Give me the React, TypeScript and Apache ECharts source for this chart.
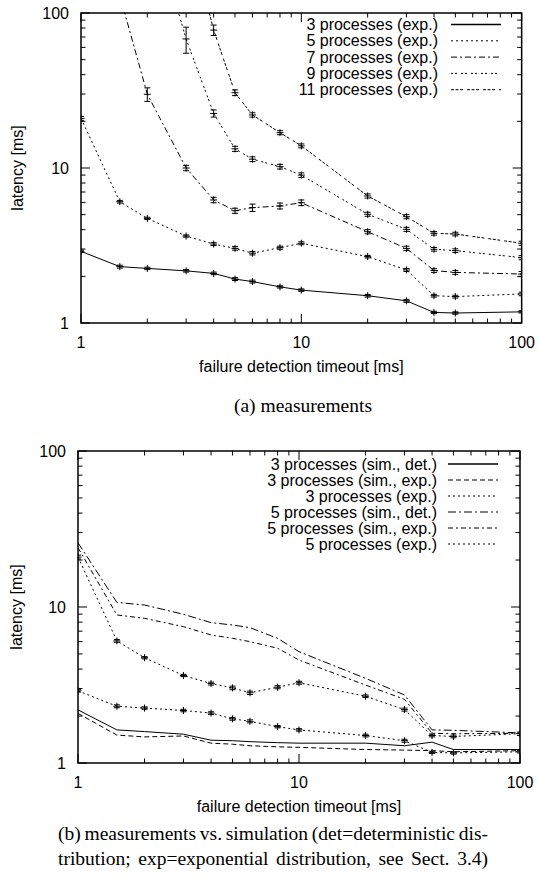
import React, { useEffect, useRef } from "react";
import * as echarts from "echarts";

// failure detection timeouts [ms]
const timeouts = [1, 1.5, 2, 3, 4, 5, 6, 8, 10, 20, 30, 40, 50, 100];

// (a) measurements, latency [ms]
const exp3 = [2.9, 2.31, 2.25, 2.17, 2.09, 1.92, 1.85, 1.71, 1.63, 1.5, 1.39, 1.17, 1.16, 1.18];
const exp3Err = [0.05, 0.05, 0.04, 0.04, 0.04, 0.04, 0.04, 0.03, 0.03, 0.03, 0.03, 0.02, 0.02, 0.02];
const exp5 = [20.9, 6.06, 4.73, 3.64, 3.23, 3.03, 2.82, 3.06, 3.27, 2.68, 2.2, 1.5, 1.48, 1.54];
const exp5Err = [0.6, 0.12, 0.08, 0.06, 0.07, 0.08, 0.07, 0.07, 0.07, 0.05, 0.05, 0.03, 0.03, 0.04];
const exp7 = [null, 130, 29.9, 10.0, 6.22, 5.3, 5.55, 5.69, 5.97, 3.88, 3.03, 2.18, 2.12, 2.07];
const exp7Err = [0, 0, 3, 0.4, 0.25, 0.2, 0.3, 0.25, 0.25, 0.12, 0.1, 0.06, 0.06, 0.08];
const exp9 = [null, null, 500, 68, 22.5, 13.3, 11.4, 10.2, 9.0, 5.03, 4.02, 2.99, 2.93, 2.64];
const exp9Err = [0, 0, 0, 13, 1.2, 0.5, 0.4, 0.35, 0.3, 0.15, 0.12, 0.08, 0.08, 0.08];
const exp11 = [null, null, null, 400, 77.6, 30.6, 22, 16.9, 13.9, 6.6, 4.85, 3.79, 3.75, 3.27];
const exp11Err = [0, 0, 0, 0, 6, 1.3, 0.7, 0.5, 0.4, 0.2, 0.15, 0.1, 0.1, 0.1];

// (b) simulation, latency [ms]
const sim3Det = [2.19, 1.63, 1.59, 1.53, 1.4, 1.39, 1.37, 1.35, 1.34, 1.34, 1.29, 1.36, 1.22, 1.22];
const sim3Exp = [2.08, 1.51, 1.47, 1.49, 1.34, 1.32, 1.29, 1.27, 1.26, 1.22, 1.21, 1.2, 1.18, 1.2];
const sim5Det = [25.8, 10.7, 10.3, 8.98, 7.94, 7.67, 7.37, 6.3, 5.17, 3.49, 2.73, 1.63, 1.62, 1.56];
const sim5Exp = [24, 8.89, 8.46, 7.48, 6.62, 6.3, 6.0, 5.44, 4.57, 3.16, 2.56, 1.55, 1.54, 1.55];

// axis ticks
const majorTicks = [1, 10, 100];
const minorTicks = [2, 3, 4, 5, 6, 7, 8, 9, 20, 30, 40, 50, 60, 70, 80, 90];

const legendA = [
  "3 processes (exp.)",
  "5 processes (exp.)",
  "7 processes (exp.)",
  "9 processes (exp.)",
  "11 processes (exp.)",
];
const legendB = [
  "3 processes (sim., det.)",
  "3 processes (sim., exp.)",
  "3 processes (exp.)",
  "5 processes (sim., det.)",
  "5 processes (sim., exp.)",
  "5 processes (exp.)",
];

const xTitle = "failure detection timeout [ms]";
const yTitle = "latency [ms]";
const captionA = "(a) measurements";
const captionB1 = "(b) measurements vs. simulation (det=deterministic dis-";
const captionB2 = "tribution; exp=exponential distribution, see Sect. 3.4)";

const SANS = '"Liberation Sans", Arial, Helvetica, sans-serif';
const SERIF = '"Liberation Serif", "Times New Roman", serif';

const dashA = [null, [2, 3], [6, 3, 2, 3], [2, 2, 2, 4], [3, 1.5, 3, 1.5, 3, 4]];
const dashB = [null, [5, 3], [2, 3], [8, 3, 2, 3], [5, 3, 2, 3], [2, 3]];

function pairs(vals: (number | null)[]) {
  const out: number[][] = [];
  vals.forEach((v, i) => {
    if (v != null) out.push([timeouts[i], v]);
  });
  return out;
}

function errData(vals: (number | null)[], errs: number[]) {
  const out: number[][] = [];
  vals.forEach((v, i) => {
    if (v != null && v <= 100) out.push([timeouts[i], v, v - errs[i], v + errs[i]]);
  });
  return out;
}

function renderErr(params: any, api: any) {
  const x = api.value(0);
  const y = api.value(1);
  const lo = api.value(2);
  const hi = api.value(3);
  const c = api.coord([x, y]);
  const cl = api.coord([x, lo]);
  const ch = api.coord([x, hi]);
  const s = 3.5;
  const cap = 3;
  const st = { stroke: "#000", lineWidth: 1 };
  const top = Math.min(ch[1], c[1] - s);
  const bot = Math.max(cl[1], c[1] + s);
  return {
    type: "group",
    children: [
      { type: "line", shape: { x1: c[0], y1: top, x2: c[0], y2: bot }, style: st },
      { type: "line", shape: { x1: c[0] - s, y1: c[1], x2: c[0] + s, y2: c[1] }, style: st },
      { type: "line", shape: { x1: c[0] - cap, y1: cl[1], x2: c[0] + cap, y2: cl[1] }, style: st },
      { type: "line", shape: { x1: c[0] - cap, y1: ch[1], x2: c[0] + cap, y2: ch[1] }, style: st },
    ],
  };
}

function renderTicks(params: any, api: any) {
  const v = api.value(0);
  const len = api.value(2);
  const cs = params.coordSys;
  const px = api.coord([v, 1])[0];
  const py = api.coord([1, v])[1];
  const L = cs.x;
  const R = cs.x + cs.width;
  const T = cs.y;
  const B = cs.y + cs.height;
  const st = { stroke: "#000", lineWidth: 1 };
  return {
    type: "group",
    children: [
      { type: "line", shape: { x1: px, y1: B, x2: px, y2: B - len }, style: st },
      { type: "line", shape: { x1: px, y1: T, x2: px, y2: T + len }, style: st },
      { type: "line", shape: { x1: L, y1: py, x2: L + len, y2: py }, style: st },
      { type: "line", shape: { x1: R, y1: py, x2: R - len, y2: py }, style: st },
    ],
  };
}

function tickData() {
  return [
    ...majorTicks.map((t) => [t, t, 9]),
    ...minorTicks.map((t) => [t, t, 4.5]),
  ];
}

function justify(text: string, x0: number, x1: number, y: number, size: number) {
  const ctx = document.createElement("canvas").getContext("2d") as CanvasRenderingContext2D;
  ctx.font = `${size}px "Liberation Serif"`;
  const words = text.split(" ");
  const widths = words.map((w) => ctx.measureText(w).width);
  const total = widths.reduce((a, b) => a + b, 0);
  const gap = (x1 - x0 - total) / (words.length - 1);
  let x = x0;
  return words.map((w, i) => {
    const el = {
      type: "text",
      x,
      y,
      style: { text: w, fontSize: size, fontFamily: SERIF, fill: "#000", verticalAlign: "middle" },
    };
    x += widths[i] + gap;
    return el;
  });
}

function legendItems(labels: string[], dashes: any[], textRight: number, lx0: number, lx1: number, y0: number, dy: number) {
  const els: any[] = [];
  labels.forEach((lab, i) => {
    const y = y0 + i * dy;
    els.push({
      type: "text",
      x: textRight,
      y,
      style: { text: lab, fontSize: 16, fontFamily: SANS, fill: "#000", align: "right", verticalAlign: "middle" },
    });
    els.push({
      type: "line",
      shape: { x1: lx0, y1: y, x2: lx1, y2: y },
      style: { stroke: "#000", lineWidth: dashes[i] ? 1 : 1.5, lineDash: dashes[i] || null },
    });
  });
  return els;
}

function axisPair(gi: number, yGap: number) {
  const common = {
    gridIndex: gi,
    type: "log",
    logBase: 10,
    min: 1,
    max: 100,
    axisLine: { show: false },
    axisTick: { show: false },
    splitLine: { show: false },
    minorTick: { show: false },
    minorSplitLine: { show: false },
    nameLocation: "middle",
    nameTextStyle: { fontSize: 16, fontFamily: SANS, color: "#000" },
  };
  return {
    x: {
      ...common,
      name: xTitle,
      nameGap: 35,
      axisLabel: { fontSize: 16, fontFamily: SANS, color: "#000", margin: 11 },
    },
    y: {
      ...common,
      name: yTitle,
      nameGap: yGap,
      axisLabel: { fontSize: 16, fontFamily: SANS, color: "#000", margin: 12 },
    },
  };
}

export default function App() {
  const ref = useRef<HTMLDivElement>(null);
  useEffect(() => {
    if (!ref.current) return;
    const chart = echarts.init(ref.current, null, { renderer: "svg" });
    const a = axisPair(0, 56);
    const b = axisPair(1, 54);

    const topSeries: any[] = [exp3, exp5, exp7, exp9, exp11].map((vals, i) => ({
      type: "line",
      xAxisIndex: 0,
      yAxisIndex: 0,
      data: pairs(vals),
      showSymbol: false,
      symbol: "none",
      clip: true,
      lineStyle: { color: "#000", width: 1, type: dashA[i] || "solid" },
    }));
    const topErrs = [
      [exp3, exp3Err],
      [exp5, exp5Err],
      [exp7, exp7Err],
      [exp9, exp9Err],
      [exp11, exp11Err],
    ].map(([v, e]: any) => ({
      type: "custom",
      xAxisIndex: 0,
      yAxisIndex: 0,
      clip: true,
      renderItem: renderErr,
      encode: { x: 0, y: 1 },
      data: errData(v, e),
    }));

    const botSeries: any[] = [sim3Det, sim3Exp, exp3, sim5Det, sim5Exp, exp5].map((vals, i) => ({
      type: "line",
      xAxisIndex: 1,
      yAxisIndex: 1,
      data: pairs(vals),
      showSymbol: false,
      symbol: "none",
      clip: true,
      lineStyle: { color: "#000", width: 1, type: dashB[i] || "solid" },
    }));
    const botErrs = [
      [exp3, exp3Err],
      [exp5, exp5Err],
    ].map(([v, e]: any) => ({
      type: "custom",
      xAxisIndex: 1,
      yAxisIndex: 1,
      clip: true,
      renderItem: renderErr,
      encode: { x: 0, y: 1 },
      data: errData(v, e),
    }));

    const tickSeries = [0, 1].map((gi) => ({
      type: "custom",
      xAxisIndex: gi,
      yAxisIndex: gi,
      clip: false,
      renderItem: renderTicks,
      encode: { x: 0, y: 1 },
      data: tickData(),
    }));

    chart.setOption({
      animation: false,
      backgroundColor: "#fff",
      grid: [
        { left: 81, top: 13, width: 443, height: 310, show: true, borderColor: "#000", borderWidth: 1.5, backgroundColor: "transparent" },
        { left: 78, top: 451, width: 442, height: 312, show: true, borderColor: "#000", borderWidth: 1.5, backgroundColor: "transparent" },
      ],
      xAxis: [a.x, b.x],
      yAxis: [a.y, b.y],
      series: [...topSeries, ...topErrs, ...botSeries, ...botErrs, ...tickSeries],
      graphic: [
        ...legendItems(legendA, dashA, 438, 451, 501, 24.5, 16.3),
        ...legendItems(legendB, dashB, 437, 448, 498, 464, 16),
        {
          type: "text",
          x: 303,
          y: 405,
          style: { text: captionA, fontSize: 19.5, fontFamily: SERIF, fill: "#000", align: "center", verticalAlign: "middle" },
        },
        ...justify(captionB1, 58, 488, 833, 19.5),
        ...justify(captionB2, 58, 488, 858, 19.5),
      ],
    });
    return () => chart.dispose();
  }, []);
  return (
    <div
      ref={ref}
      style={{ position: "absolute", left: 0, top: 0, width: 538, height: 882, background: "#fff" }}
    />
  );
}
